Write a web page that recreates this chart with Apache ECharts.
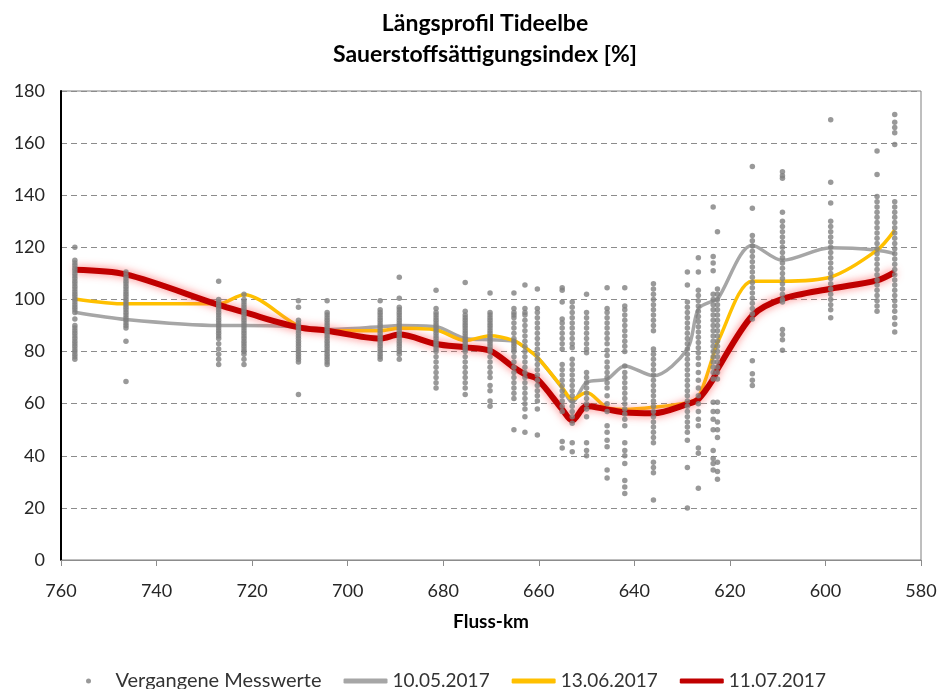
<!DOCTYPE html>
<html>
<head>
<meta charset="utf-8">
<script src="https://cdn.jsdelivr.net/npm/echarts@6/dist/echarts.min.js"></script>
<style>
html,body{margin:0;padding:0;background:#fff;}
#chart{width:942px;height:689px;}
</style>
</head>
<body>
<div id="chart"></div>
<script>
// Fluss-km of the measuring stations
const stations = [757.1, 746.4, 727.0, 721.7, 710.3, 704.3, 693.2, 689.2, 681.5, 675.4, 670.2, 665.2, 662.9, 660.3, 655.1, 653.0, 650.0, 645.7, 642.0, 636.0, 628.9, 626.6, 623.5, 622.6, 615.3, 609.0, 598.9, 589.2, 585.5];

// Past measurements (one list per station, same order as stations)
const pastValues = [
  [120, 115, 114, 113, 112, 111, 110, 109, 108, 107, 106, 105, 104, 103, 102, 101, 100, 99, 98, 97, 96, 95, 92.5, 90, 89, 88, 87, 86, 85, 84, 83, 82, 81, 80, 79, 78, 77],
  [110.5, 109, 108, 107, 106, 105, 104, 103, 102, 101, 100, 99, 98, 97, 96, 95, 94, 93, 92, 91, 90, 89, 84, 68.5],
  [107, 100, 99, 98, 97, 96, 95, 94, 93, 92, 91, 90, 89, 88, 87, 86, 85, 83, 81, 79, 77, 75],
  [102, 100, 99, 98, 97, 96, 95, 94, 93, 92, 91, 90, 89, 88, 87, 86, 85, 84, 83, 82, 81, 80, 79, 77, 75],
  [99.5, 97, 92, 91, 90, 89, 88, 87, 86, 85, 84, 83, 82, 81, 80, 79, 78, 77, 76, 63.5],
  [99.5, 95, 94, 93, 92, 91, 90, 89, 88, 87, 86, 85, 84, 83, 82, 81, 80, 79, 78, 77, 76, 75],
  [99.5, 96, 95, 94, 93, 92, 91, 90, 89, 88, 87, 86, 85, 84, 83, 82, 81, 80, 79, 78, 77],
  [108.5, 100.5, 97, 96, 95, 94, 93, 92, 91, 90, 89, 88, 87, 86, 85, 84, 83, 82, 81, 80, 79, 77],
  [103.5, 96.5, 95, 94, 93, 92, 91, 90, 89, 88, 87, 86, 85, 84, 83, 82, 81, 80, 78, 76, 74, 72, 70, 68, 66],
  [106.5, 95.5, 94, 93, 92, 91, 90, 89, 88, 87, 86, 85, 84, 83, 82, 81, 80, 78, 76, 74, 72, 70, 68, 66, 63.5],
  [102.5, 95, 94, 93, 92, 91, 90, 89, 88, 87, 86, 85, 84, 83, 82, 81, 80, 78, 76, 74, 72, 70, 67, 65, 61, 59],
  [102.5, 96.5, 95, 94, 93, 91, 89, 87, 85, 84, 83, 82, 81, 80, 78, 76, 74, 72, 70, 68, 66, 64, 62, 50],
  [105.5, 96.5, 95, 94, 92, 90, 88, 86, 84, 82, 80, 78, 76, 74, 72, 70, 68, 66, 64, 62, 60, 58, 55, 49],
  [104, 96.5, 95, 93, 91, 89, 87, 85, 83, 81, 79, 77, 75, 73, 71, 69, 67, 65, 63, 61, 58, 48],
  [104.5, 103.5, 99, 92.5, 91, 89, 87, 85, 83, 81, 75, 73, 71, 69, 67, 65, 63, 61, 59, 57, 45.5, 43],
  [99, 97, 95, 93, 91, 89, 87, 85, 83, 81.5, 77, 75, 73, 71, 69, 67, 65, 63, 61, 59, 57, 55, 52.5, 45, 41.5],
  [102, 95, 93, 91, 89, 87, 85, 83, 81, 79.5, 72, 70, 68, 66, 64, 62, 60, 58, 55, 45, 42, 40],
  [104.5, 96.5, 95, 93, 91, 89, 87, 85, 83, 80.5, 78.5, 76, 74, 72, 70, 68, 66, 63, 60, 57, 51.5, 49, 46, 43.5, 34.5, 31.5],
  [104.5, 97.5, 96, 94, 92, 90, 88, 86, 84, 82, 80, 74.5, 72, 70, 68, 66, 64, 62, 60, 58, 56, 54, 51.5, 45, 42, 40, 37, 30.5, 28, 25.5],
  [106, 104, 102, 100, 98, 96, 94, 92, 90, 88, 81, 79, 77, 75, 73, 71, 69, 67, 65, 63, 61, 59, 57, 55, 53, 51, 49, 47, 45, 37.5, 35.5, 33.5, 23],
  [110.5, 105.5, 99, 97, 95, 93, 91, 89, 87, 85, 83, 81, 79, 77, 75, 73, 71, 69, 67, 65, 63, 61, 59, 57, 55, 53, 51, 49, 46, 35.5, 20],
  [116, 110.5, 103.5, 101.5, 99.5, 97.5, 95.5, 93.5, 91.5, 89.5, 87.5, 85.5, 83.5, 81.5, 79.5, 77.5, 75, 72, 69, 66, 63, 60, 57, 54, 51.5, 43, 41, 27.5],
  [135.5, 116.5, 114, 111, 102, 100, 98, 96, 94, 92, 90, 88, 86, 84, 82, 80, 78, 76, 74, 72, 69.5, 60.5, 57, 54, 50, 42, 39, 37, 34.5],
  [126, 104, 102, 100, 98, 96, 94, 92, 90, 88, 86, 84, 82, 80, 78, 76, 74, 72, 69.5, 60.5, 57, 53, 50, 47, 37.5, 34, 31],
  [151, 135, 124.5, 122.5, 120.5, 118.5, 116.5, 114.5, 112.5, 110.5, 108.5, 106.5, 104.5, 102.5, 100.5, 98.5, 96.5, 94.5, 92.5, 76.5, 71.5, 69, 67],
  [149, 147.5, 146.5, 133.5, 130, 128, 126, 124, 122, 120, 118, 116, 114, 112, 110, 108, 106, 104, 102, 100, 99, 88.5, 86.5, 84.5, 80.5],
  [169, 145, 137, 130, 128, 126, 124, 122, 120, 118, 116, 114, 112, 110, 108, 106, 104, 102, 100, 98, 96, 93],
  [157, 148, 139.5, 137.5, 135.5, 133.5, 131.5, 129.5, 127.5, 125.5, 123.5, 121.5, 119.5, 117.5, 115.5, 113.5, 111.5, 109.5, 107.5, 105.5, 103.5, 101.5, 99.5, 97.5, 95.5],
  [171, 168, 166, 164, 159.5, 137.5, 135.5, 133.5, 131.5, 129.5, 127.5, 125.5, 123.5, 121.5, 119.5, 117.5, 115.5, 113.5, 111.5, 109.5, 107.5, 105.5, 103.5, 101.5, 99.5, 97.5, 95.5, 93, 90.5, 87.5]
];

// Profiles of the three dates (values at stations)
const values1005 = [95.1, 92.3, 90.0, 90.0, 89.5, 88.5, 89.5, 90.0, 89.5, 85.0, 84.5, 84.0, 81.6, 77.8, 66.0, 60.5, 68.1, 69.4, 74.5, 70.7, 81.0, 96.4, 99.5, 100.0, 120.8, 115.0, 119.8, 118.9, 117.6];
const values1306 = [100.2, 98.3, 98.3, 101.8, 89.9, 88.0, 88.0, 88.9, 88.3, 84.2, 86.1, 84.2, 81.6, 77.8, 66.2, 61.7, 64.3, 58.5, 57.8, 58.6, 60.4, 62.5, 78.4, 83.5, 107.0, 107.0, 108.6, 118.9, 126.6];
const values1107 = [111.4, 109.6, 97.9, 95.1, 89.3, 88.0, 85.0, 86.5, 82.9, 81.6, 80.3, 73.9, 71.3, 69.4, 57.8, 53.5, 59.1, 57.8, 56.6, 56.3, 59.8, 61.7, 69.4, 73.2, 93.8, 100.2, 104.1, 107.3, 110.5];

const seriesNames = ['Vergangene Messwerte', '10.05.2017', '13.06.2017', '11.07.2017'];
const yTicks = [0, 20, 40, 60, 80, 100, 120, 140, 160, 180];
const xTicks = [760, 740, 720, 700, 680, 660, 640, 620, 600, 580];

const scatterData = [];
stations.forEach((km, i) => pastValues[i].forEach(v => scatterData.push([km, v])));
const pair = vals => stations.map((km, i) => [km, vals[i]]);

const FONT = 'Lato, "Open Sans", sans-serif';
const dateText = {fontFamily: FONT, fontSize: 19, color: '#333'};
const chart = echarts.init(document.getElementById('chart'), null, {renderer: 'canvas'});
chart.setOption({
  animation: false,
  backgroundColor: '#ffffff',
  textStyle: {fontFamily: FONT},
  title: {
    text: 'Längsprofil Tideelbe\nSauerstoffsättigungsindex [%]',
    left: 480, top: 3, textAlign: 'center',
    textStyle: {fontFamily: FONT, fontSize: 23, fontWeight: 'bold', color: '#000', lineHeight: 31}
  },
  legend: {
    left: 81, top: 666,
    itemWidth: 44, itemHeight: 5, itemGap: 22,
    textStyle: {fontFamily: FONT, fontSize: 20, color: '#333'},
    data: [
      {name: seriesNames[0], icon: 'circle'},
      {name: seriesNames[1], icon: 'roundRect', textStyle: dateText},
      {name: seriesNames[2], icon: 'roundRect', textStyle: dateText},
      {name: seriesNames[3], icon: 'roundRect', textStyle: dateText}
    ]
  },
  grid: {left: 61, right: 21, top: 91, bottom: 129, show: true, borderColor: '#7f7f7f', borderWidth: 1},
  xAxis: {
    type: 'value', min: 580, max: 760, interval: 20, inverse: true,
    name: 'Fluss-km', nameLocation: 'middle', nameGap: 52,
    nameTextStyle: {fontFamily: FONT, fontSize: 19, fontWeight: 'bold', color: '#000'},
    axisLine: {show: true, lineStyle: {color: '#8c8c8c', width: 1}},
    axisTick: {show: true, length: 6, lineStyle: {color: '#8c8c8c'}},
    axisLabel: {fontFamily: FONT, fontSize: 18, color: '#262626', margin: 22,
      formatter: v => xTicks.includes(v) ? String(v) : ''},
    splitLine: {show: false}
  },
  yAxis: {
    type: 'value', min: 0, max: 180, interval: 20,
    axisLine: {show: true, lineStyle: {color: '#000', width: 2}},
    axisTick: {show: false},
    axisLabel: {fontFamily: FONT, fontSize: 18, color: '#262626', margin: 16,
      formatter: v => yTicks.includes(v) ? String(v) : ''},
    splitLine: {show: true, lineStyle: {color: '#8c8c8c', type: [6, 4], width: 1}}
  },
  series: [
    {
      name: seriesNames[0], type: 'scatter', data: scatterData, z: 5,
      symbol: 'circle', symbolSize: 5.5,
      itemStyle: {color: '#7f7f7f'}
    },
    {
      name: seriesNames[1], type: 'line', data: pair(values1005), z: 2,
      smooth: 0.3, symbol: 'none', showSymbol: false,
      lineStyle: {color: '#a6a6a6', width: 3.5},
      itemStyle: {color: '#a6a6a6'}
    },
    {
      name: seriesNames[2], type: 'line', data: pair(values1306), z: 3,
      smooth: 0.3, symbol: 'none', showSymbol: false,
      lineStyle: {color: '#ffc000', width: 3.5},
      itemStyle: {color: '#ffc000'}
    },
    {
      name: seriesNames[3], type: 'line', data: pair(values1107), z: 4,
      smooth: 0.3, symbol: 'none', showSymbol: false,
      lineStyle: {color: '#c00000', width: 6, shadowBlur: 9, shadowColor: 'rgba(255,90,90,0.8)'},
      itemStyle: {color: '#c00000'}
    }
  ]
});
</script>
</body>
</html>
